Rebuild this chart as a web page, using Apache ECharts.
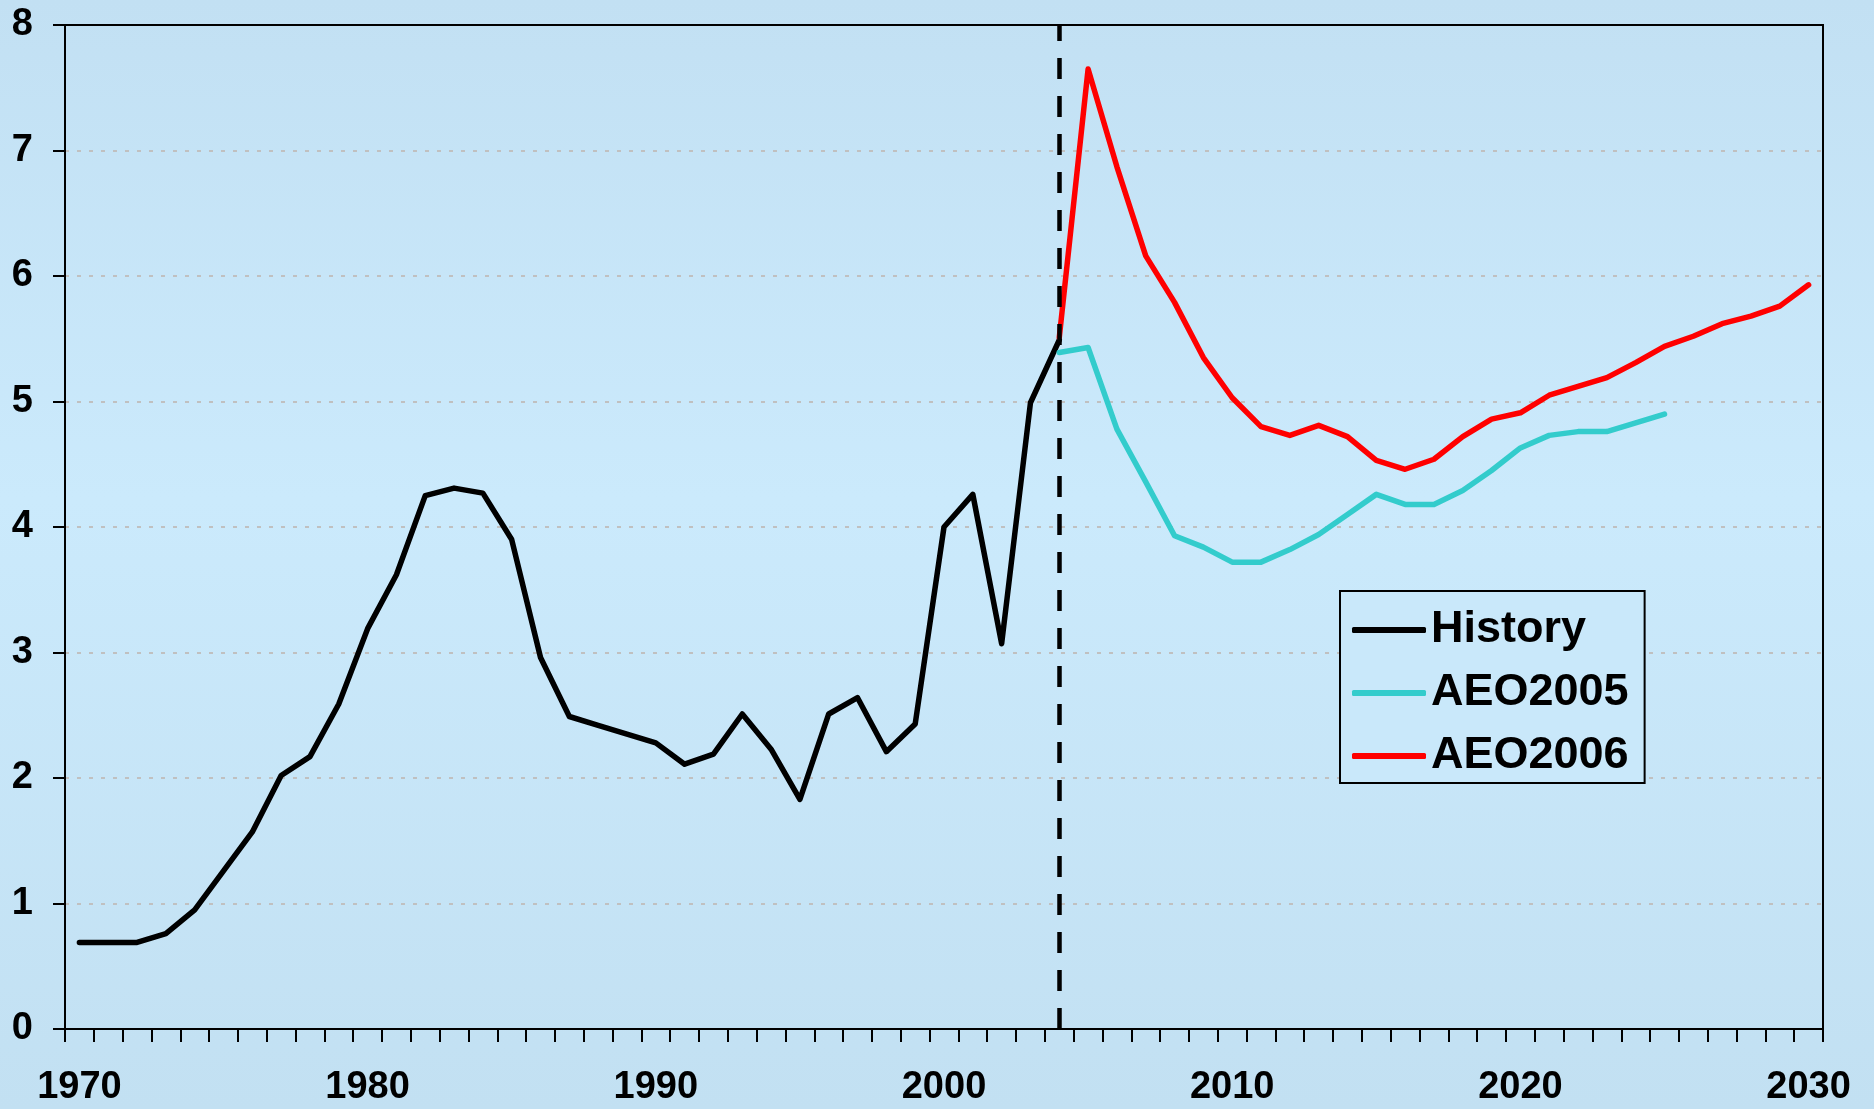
<!DOCTYPE html>
<html>
<head>
<meta charset="utf-8">
<script src="https://cdn.jsdelivr.net/npm/echarts@6/dist/echarts.min.js"></script>
<style>
    html, body { margin: 0; padding: 0; }
    #chart { width: 1874px; height: 1109px; }
</style>
</head>
<body>
<div id="chart"></div>
<script>
    // categories: one per year, labels every 10 years
    const years = [];
    for (let y = 1970; y <= 2030; y++) years.push(String(y));

    // History 1970-2004
    const historyStart = 1970;
    const historyValues = [
        0.69, 0.69, 0.69, 0.76, 0.95, 1.26, 1.57, 2.02, 2.17, 2.59,
        3.19, 3.62, 4.25, 4.31, 4.27, 3.90, 2.96, 2.49, 2.42, 2.35,
        2.28, 2.11, 2.19, 2.51, 2.23, 1.83, 2.51, 2.64, 2.21, 2.43,
        4.00, 4.26, 3.07, 4.99, 5.49
    ];
    // AEO2005 2004-2025
    const aeo2005Start = 2004;
    const aeo2005Values = [
        5.39, 5.43, 4.78, 4.36, 3.93, 3.84, 3.72, 3.72, 3.82, 3.94,
        4.10, 4.26, 4.18, 4.18, 4.29, 4.45, 4.63, 4.73, 4.76, 4.76,
        4.83, 4.90
    ];
    // AEO2006 2004-2030
    const aeo2006Start = 2004;
    const aeo2006Values = [
        5.51, 7.65, 6.87, 6.16, 5.79, 5.35, 5.03, 4.80, 4.73, 4.81,
        4.72, 4.53, 4.46, 4.54, 4.72, 4.86, 4.91, 5.05, 5.12, 5.19,
        5.31, 5.44, 5.52, 5.62, 5.68, 5.76, 5.93
    ];
    const dividerYear = '2004';

    function pad(start, values) {
        const out = years.map(() => null);
        values.forEach((v, i) => { out[start - 1970 + i] = v; });
        return out;
    }

    const chart = echarts.init(document.getElementById('chart'));

    const font = 'Liberation Sans, Arial, sans-serif';

    function lineSeries(name, color, data) {
        return {
            name: name,
            type: 'line',
            data: data,
            showSymbol: false,
            symbol: 'none',
            connectNulls: false,
            itemStyle: { color: color },
            lineStyle: { color: color, width: 5.5, cap: 'round', join: 'round' }
        };
    }

    const history = lineSeries('History', '#000000', pad(historyStart, historyValues));
    history.markLine = {
        silent: true,
        symbol: 'none',
        label: { show: false },
        lineStyle: { color: '#000', width: 4.5, type: [21, 17] },
        data: [{ xAxis: dividerYear }]
    };

    const option = {
        animation: false,
        backgroundColor: new echarts.graphic.LinearGradient(0, 0, 0, 1, [
            { offset: 0, color: '#c2e0f3' },
            { offset: 0.45, color: '#cbeafc' },
            { offset: 1, color: '#c2e0f2' }
        ]),
        grid: {
            left: 65,
            right: 51,
            top: 25,
            bottom: 80,
            show: true,
            borderColor: '#000',
            borderWidth: 2,
            backgroundColor: 'transparent'
        },
        legend: {
            orient: 'vertical',
            left: 1340,
            top: 591,
            padding: [14, 16, 2, 12],
            itemGap: 13,
            itemWidth: 74,
            itemHeight: 6,
            itemTextGap: 20,
            icon: 'roundRect',
            borderColor: '#000',
            borderWidth: 2,
            backgroundColor: '#c9e8fa',
            textStyle: {
                fontFamily: font,
                fontWeight: 'bold',
                fontSize: 45,
                lineHeight: 50,
                color: '#000'
            },
            data: ['History', 'AEO2005', 'AEO2006']
        },
        xAxis: [{
            type: 'category',
            data: years,
            boundaryGap: true,
            axisLine: { show: true, lineStyle: { color: '#000', width: 2 } },
            axisTick: {
                show: true,
                interval: 0,
                length: 13,
                lineStyle: { color: '#000', width: 2 }
            },
            axisLabel: {
                interval: function (index) { return index % 10 === 0; },
                margin: 40,
                fontFamily: font,
                fontWeight: 'bold',
                fontSize: 38,
                color: '#000'
            },
            splitLine: { show: false }
        }, {
            // top frame line drawn over the dashed gridline at 8
            type: 'category',
            data: years,
            position: 'top',
            axisLine: { show: true, lineStyle: { color: '#000', width: 2 } },
            axisTick: { show: false },
            axisLabel: { show: false },
            splitLine: { show: false }
        }],
        yAxis: {
            type: 'value',
            min: 0,
            max: 8,
            interval: 1,
            axisLine: { show: true, lineStyle: { color: '#000', width: 2 } },
            axisTick: { show: true, length: 12, lineStyle: { color: '#000', width: 2 } },
            axisLabel: {
                margin: 32,
                fontFamily: font,
                fontWeight: 'bold',
                fontSize: 38,
                color: '#000'
            },
            splitLine: {
                show: true,
                lineStyle: { color: '#c0c0c0', width: 2, type: [4, 8] }
            }
        },
        series: [
            history,
            lineSeries('AEO2005', '#33cccc', pad(aeo2005Start, aeo2005Values)),
            lineSeries('AEO2006', '#ff0000', pad(aeo2006Start, aeo2006Values))
        ]
    };

    chart.setOption(option);
</script>
</body>
</html>
